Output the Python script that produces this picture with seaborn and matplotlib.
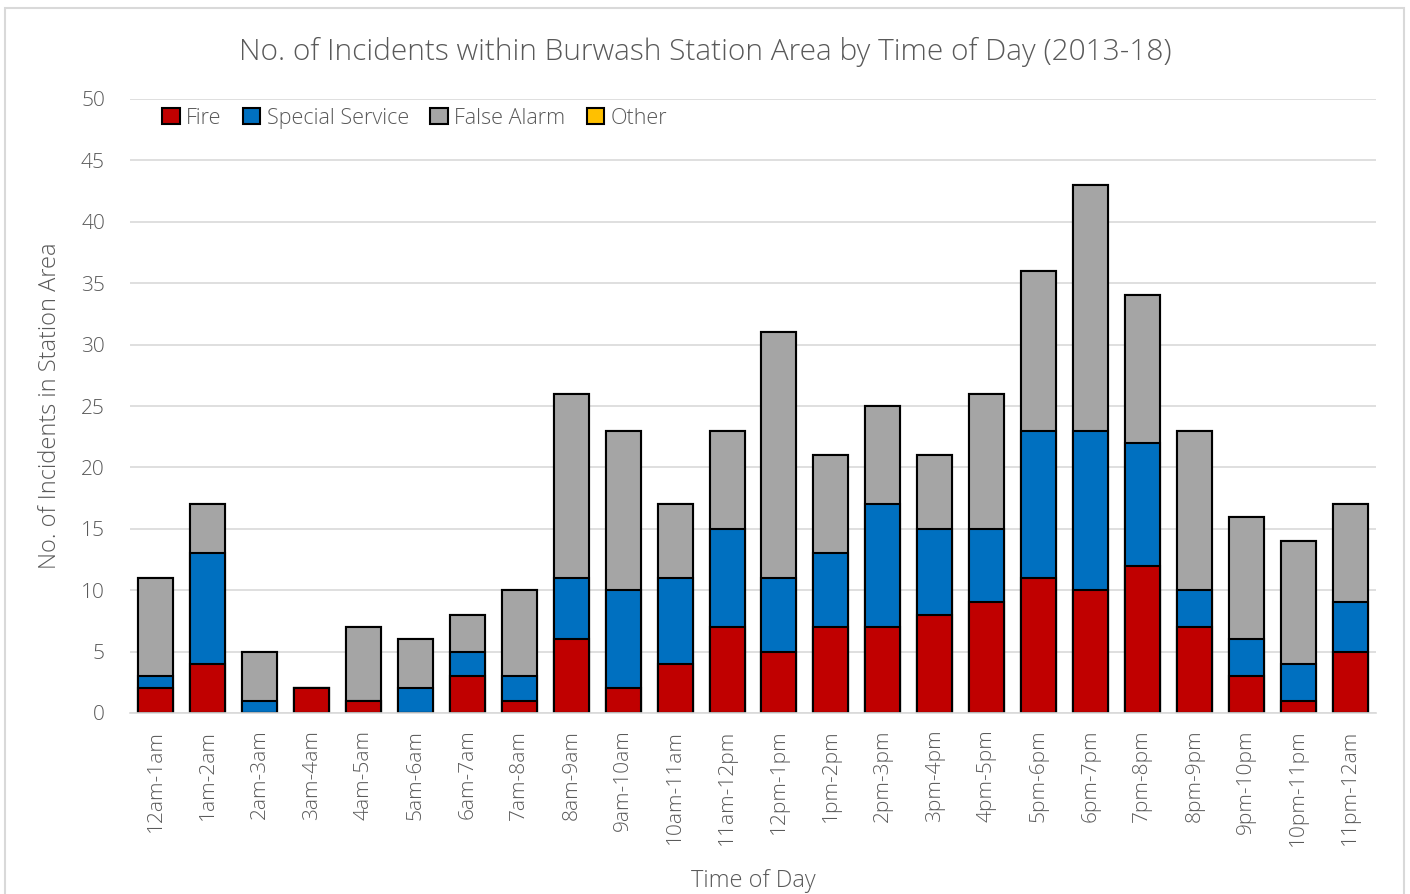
import numpy as np
import pandas as pd
import matplotlib
matplotlib.use("Agg")
import matplotlib.pyplot as plt
from matplotlib.patches import Rectangle, Patch
import seaborn as sns

categories = ["12am-1am", "1am-2am", "2am-3am", "3am-4am", "4am-5am", "5am-6am",
              "6am-7am", "7am-8am", "8am-9am", "9am-10am", "10am-11am", "11am-12pm",
              "12pm-1pm", "1pm-2pm", "2pm-3pm", "3pm-4pm", "4pm-5pm", "5pm-6pm",
              "6pm-7pm", "7pm-8pm", "8pm-9pm", "9pm-10pm", "10pm-11pm", "11pm-12am"]
fire = [2, 4, 0, 2, 1, 0, 3, 1, 6, 2, 4, 7, 5, 7, 7, 8, 9, 11, 10, 12, 7, 3, 1, 5]
special_service = [1, 9, 1, 0, 0, 2, 2, 2, 5, 8, 7, 8, 6, 6, 10, 7, 6, 12, 13, 10, 3, 3, 3, 4]
false_alarm = [8, 4, 4, 0, 6, 4, 3, 7, 15, 13, 6, 8, 20, 8, 8, 6, 11, 13, 20, 12, 13, 10, 10, 8]
other = [0] * 24

series_names = ["Fire", "Special Service", "False Alarm", "Other"]
series_colors = ["#c00000", "#0070c0", "#a5a5a5", "#ffc000"]

sns.set_theme(style="white")
plt.rcParams["font.family"] = ["Open Sans", "DejaVu Sans"]
plt.rcParams["font.weight"] = "light"
plt.rcParams["axes.labelweight"] = "light"
text_color = "#595959"

fig = plt.figure(figsize=(14.1, 8.94), dpi=100)
ax = fig.add_axes([130 / 1410, 1 - 713 / 894, (1376 - 130) / 1410, (713 - 99) / 894])

# border around chart area
fig.patches.append(Rectangle((5 / 1410, -0.01), 1399 / 1410, 1 - 8 / 894 + 0.01,
                             transform=fig.transFigure, fill=False,
                             edgecolor="#d9d9d9", linewidth=1.5))

df = pd.DataFrame({"cat": categories, "Fire": fire, "Special Service": special_service,
                   "False Alarm": false_alarm, "Other": other})
cum = df[series_names].cumsum(axis=1)

# draw cumulative heights from top down so lower segments overlay
for name, color in reversed(list(zip(series_names, series_colors))):
    sns.barplot(x=df["cat"], y=cum[name], order=categories, color=color,
                edgecolor="black", linewidth=1.5, width=0.675, ax=ax,
                saturation=1)

ax.set_ylim(0, 50)
ax.set_xlim(-0.5, len(categories) - 0.5)
ax.set_yticks(np.arange(0, 51, 5))
ax.yaxis.grid(True, color="#d9d9d9", linewidth=1.2)
ax.set_axisbelow(True)
for s in ["top", "right", "left"]:
    ax.spines[s].set_visible(False)
ax.spines["bottom"].set_color("#d9d9d9")
ax.spines["bottom"].set_linewidth(1.2)
ax.tick_params(axis="both", length=0, colors=text_color, labelsize=15)
ax.tick_params(axis="y", pad=18)
ax.tick_params(axis="x", pad=12)
plt.setp(ax.get_xticklabels(), rotation=90)

ax.set_xlabel("Time of Day", fontsize=17, color=text_color, labelpad=16, fontweight="light")
ax.set_ylabel("No. of Incidents in Station Area", fontsize=17, color=text_color,
              labelpad=14, fontweight="light")
fig.text(0.5, 1 - 52 / 894, "No. of Incidents within Burwash Station Area by Time of Day (2013-18)",
         ha="center", va="center", fontsize=21.5, color=text_color)

handles = [Patch(facecolor=c, edgecolor="black", linewidth=1.5) for c in series_colors]
leg = ax.legend(handles, series_names, loc="upper left", bbox_to_anchor=(0.019, 1.0),
                ncol=4, frameon=False, fontsize=15.5, handlelength=0.8, handleheight=0.8,
                handletextpad=0.3, columnspacing=1.0, borderaxespad=0.0)
for t in leg.get_texts():
    t.set_color(text_color)

fig.savefig("out.png", dpi=100)
